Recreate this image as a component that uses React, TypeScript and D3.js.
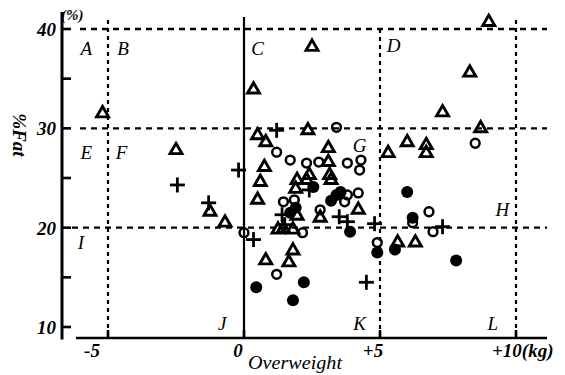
import * as d3 from "d3";

// %Fat vs overweight (kg) — four groups of subjects
const triangles: [number, number][] = [
  [-5.2, 31.5], [-2.5, 27.8], [-1.25, 21.6], [-0.7, 20.5], [0.35, 33.9],
  [2.5, 38.2], [9.0, 40.7], [8.3, 35.6], [7.3, 31.6], [8.7, 30.0],
  [2.35, 29.8], [5.3, 27.5], [6.0, 28.6], [6.7, 28.3], [6.7, 27.5],
  [0.5, 29.3], [0.8, 28.6], [0.75, 26.1], [0.6, 24.6], [0.5, 22.8],
  [3.1, 28.0], [3.1, 26.6], [3.15, 25.3], [3.2, 24.8], [1.95, 24.8],
  [2.3, 24.8], [1.9, 23.9], [1.95, 21.2], [1.25, 19.8], [1.45, 19.9],
  [1.8, 19.8], [4.2, 21.8], [2.8, 21.0], [5.65, 18.5], [6.3, 18.5],
  [0.8, 16.7], [1.65, 16.5], [1.8, 17.7], [2.4, 25.3],
];

const openCircles: [number, number][] = [
  [8.5, 28.5], [0.0, 19.5], [1.2, 15.3], [4.9, 18.5], [6.8, 21.6],
  [6.95, 19.6], [6.2, 20.5], [1.2, 27.6], [1.7, 26.8], [2.3, 26.5],
  [2.75, 26.6], [3.8, 26.5], [4.25, 25.8], [3.4, 30.1], [1.45, 22.6],
  [1.85, 22.8], [2.8, 21.8], [2.15, 19.5], [3.8, 23.3], [4.2, 23.5],
  [3.7, 22.6], [4.3, 26.8],
];

const filledCircles: [number, number][] = [
  [0.45, 14.0], [2.2, 14.5], [1.8, 12.7], [4.9, 17.5], [5.55, 17.8],
  [7.8, 16.7], [6.2, 21.0], [6.0, 23.6], [3.9, 19.6], [1.9, 22.0],
  [1.7, 21.5], [3.2, 22.7], [3.55, 23.6], [3.4, 23.3], [2.55, 24.1],
];

const crosses: [number, number][] = [
  [-2.45, 24.3], [-1.3, 22.5], [-0.2, 25.8], [0.35, 18.8], [1.2, 29.8],
  [1.4, 21.3], [1.5, 20.3], [4.5, 14.5], [4.8, 20.4], [7.3, 20.1],
  [3.5, 21.1], [3.8, 20.6], [2.4, 23.8],
];

const yTickLabels = [10, 20, 30, 40];
const yTickMarks = [10, 15, 20, 25, 30, 35, 40];
const xTicks = [-5, 0, 5, 10];
const xTickLabels = ["-5", "0", "+5", "+10(kg)"];
const hGuides = [40, 30, 20];
const vGuides = [-5, 5, 10];

const regionLetters = ["A", "B", "C", "D", "E", "F", "G", "H", "I", "J", "K", "L"];
const regionAnchors: [number, number][] = [
  [-5.8, 38.1], [-4.45, 38.1], [0.5, 38.1], [5.5, 38.4],
  [-5.8, 27.6], [-4.5, 27.6], [4.25, 28.3], [9.5, 21.8],
  [-6.0, 18.5], [-0.8, 10.4], [4.25, 10.4], [9.15, 10.4],
];

const serif = "'Liberation Serif', 'DejaVu Serif', serif";

export default function App() {
  const x = d3.scaleLinear().domain([0, 10]).range([244, 516]);
  const y = d3.scaleLinear().domain([10, 40]).range([327, 29]);

  const axisY = 338;
  const axisX = 62;
  const right = 547;

  const tri = d3.symbol(d3.symbolTriangle, 62)() as string;

  return (
    <svg
      width={565}
      height={375}
      style={{ position: "absolute", left: 0, top: 0, background: "#fff" }}
    >
      {/* guide lines */}
      {hGuides.map((v) => (
        <line
          key={"h" + v}
          x1={v === 20 ? 72 : 80}
          x2={right}
          y1={y(v)}
          y2={y(v)}
          stroke="#000"
          strokeWidth={2.4}
          strokeDasharray="6 5"
        />
      ))}
      {vGuides.map((v) => (
        <line
          key={"v" + v}
          x1={x(v)}
          x2={x(v)}
          y1={v === 5 ? 29 : 20}
          y2={axisY}
          stroke="#000"
          strokeWidth={2.2}
          strokeDasharray="4 4"
        />
      ))}
      <line x1={x(0)} x2={x(0)} y1={17} y2={axisY} stroke="#000" strokeWidth={2.2} />

      {/* axes */}
      <line x1={axisX} x2={axisX} y1={12} y2={axisY + 1.5} stroke="#000" strokeWidth={3} />
      <line x1={76} x2={right} y1={axisY} y2={axisY} stroke="#000" strokeWidth={2.6} />
      {yTickMarks.map((v) => (
        <line key={"yt" + v} x1={axisX} x2={axisX + 9} y1={y(v)} y2={y(v)} stroke="#000" strokeWidth={2.6} />
      ))}
      {xTicks.map((v) => (
        <line key={"xt" + v} x1={x(v)} x2={x(v)} y1={axisY} y2={axisY - 8} stroke="#000" strokeWidth={2.6} />
      ))}

      {/* tick labels */}
      {yTickLabels.map((v) => (
        <text
          key={"yl" + v}
          x={56}
          y={y(v) + 7}
          textAnchor="end"
          fontFamily={serif}
          fontStyle="italic"
          fontWeight="bold"
          fontSize={19}
        >
          {v}
        </text>
      ))}
      {xTicks.map((v, i) => (
        <text
          key={"xl" + v}
          x={x(v) + (i === 0 ? -16 : i === 1 ? -6 : i === 2 ? -7 : -24)}
          y={357}
          textAnchor={i === 3 ? "start" : "middle"}
          fontFamily={serif}
          fontStyle="italic"
          fontWeight="bold"
          fontSize={19}
        >
          {xTickLabels[i]}
        </text>
      ))}
      <text x={61} y={20} fontFamily={serif} fontStyle="italic" fontWeight="bold" fontSize={15}>
        (%)
      </text>
      <text
        transform="translate(20,135) rotate(90)"
        textAnchor="middle"
        dy="0.35em"
        fontFamily={serif}
        fontStyle="italic"
        fontWeight="bold"
        fontSize={19}
      >
        %Fat
      </text>
      <text
        x={248}
        y={369}
        fontFamily={serif}
        fontStyle="italic"
        fontSize={18}
        textLength={94}
        lengthAdjust="spacingAndGlyphs"
      >
        Overweight
      </text>

      {/* region letters */}
      {regionLetters.map((l, i) => (
        <text
          key={l}
          x={x(regionAnchors[i][0])}
          y={y(regionAnchors[i][1])}
          dy="0.35em"
          textAnchor="middle"
          fontFamily={serif}
          fontStyle="italic"
          fontSize={19}
        >
          {l}
        </text>
      ))}

      {/* data */}
      {triangles.map((d, i) => (
        <path
          key={"t" + i}
          d={tri}
          transform={`translate(${x(d[0])},${y(d[1])})`}
          fill="none"
          stroke="#000"
          strokeWidth={2.9}
        />
      ))}
      {openCircles.map((d, i) => (
        <circle key={"o" + i} cx={x(d[0])} cy={y(d[1])} r={4.4} fill="none" stroke="#000" strokeWidth={2.5} />
      ))}
      {filledCircles.map((d, i) => (
        <circle key={"f" + i} cx={x(d[0])} cy={y(d[1])} r={6} fill="#000" />
      ))}
      {crosses.map((d, i) => (
        <g key={"c" + i} transform={`translate(${x(d[0])},${y(d[1])})`} stroke="#000" strokeWidth={2.8}>
          <line x1={-7.5} x2={7.5} y1={0} y2={0} />
          <line x1={0} x2={0} y1={-7.5} y2={7.5} />
        </g>
      ))}
    </svg>
  );
}
